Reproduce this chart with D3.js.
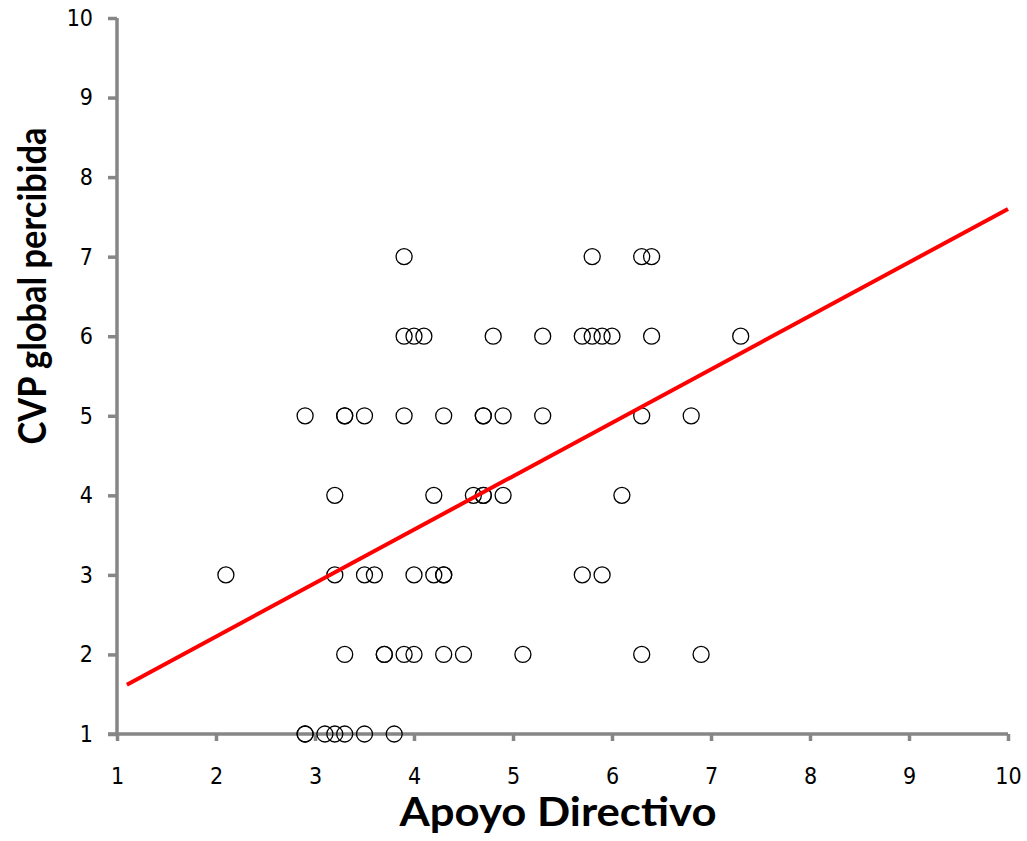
<!DOCTYPE html>
<html><head><meta charset="utf-8">
<script src="https://cdn.jsdelivr.net/npm/d3@7"></script>
<style>body{margin:0;background:#fff}svg{display:block}</style>
</head><body>
<script>
// Data
const apoyoDirectivo = [
  3.9, 5.8, 6.3, 6.4,
  3.9, 4.0, 4.1, 4.8, 5.3, 5.7, 5.8, 5.9, 6.0, 6.4, 7.3,
  2.9, 3.3, 3.3, 3.5, 3.9, 4.3, 4.7, 4.7, 4.9, 5.3, 6.3, 6.8,
  3.2, 4.2, 4.6, 4.7, 4.7, 4.9, 6.1,
  2.1, 3.2, 3.5, 3.6, 4.0, 4.2, 4.3, 4.3, 5.7, 5.9,
  3.3, 3.7, 3.7, 3.9, 4.0, 4.3, 4.5, 5.1, 6.3, 6.9,
  2.9, 2.9, 3.1, 3.2, 3.3, 3.5, 3.8
];
const cvpGlobal = [
  7, 7, 7, 7,
  6, 6, 6, 6, 6, 6, 6, 6, 6, 6, 6,
  5, 5, 5, 5, 5, 5, 5, 5, 5, 5, 5, 5,
  4, 4, 4, 4, 4, 4, 4,
  3, 3, 3, 3, 3, 3, 3, 3, 3, 3,
  2, 2, 2, 2, 2, 2, 2, 2, 2, 2,
  1, 1, 1, 1, 1, 1, 1
];
const fitX = [1.1, 10];
const fitY = [1.62, 7.6];
const xTicks = [1, 2, 3, 4, 5, 6, 7, 8, 9, 10];
const yTicks = [1, 2, 3, 4, 5, 6, 7, 8, 9, 10];
const xTitle = "Apoyo Directivo";
const yTitle = "CVP global percibida";

const W = 1027, H = 841;
const svg = d3.select("body").append("svg").attr("width", W).attr("height", H);
const x = d3.scaleLinear().domain([1, 10]).range([117, 1008]);
const y = d3.scaleLinear().domain([1, 10]).range([734, 18]);
const axisColor = "#868686";
const tickFont = "'Liberation Sans Narrow', 'DejaVu Sans Condensed', Lato, sans-serif";
const titleFont = "Lato, 'Open Sans', sans-serif";

// X axis
const gx = svg.append("g").attr("transform", `translate(0,${y(1)})`)
  .call(d3.axisBottom(x).tickValues(xTicks).tickSize(7).tickPadding(27).tickFormat(d3.format("d")));
gx.select(".domain").attr("stroke", axisColor).attr("stroke-width", 3.5).attr("d", `M${x(1)-9},0H${x(10)}`);
gx.selectAll(".tick line").attr("stroke", axisColor).attr("stroke-width", 3.5);
gx.selectAll(".tick text").attr("font-family", tickFont).attr("font-size", 23).attr("fill", "#000");

// Y axis
const gy = svg.append("g").attr("transform", `translate(${x(1)},0)`)
  .call(d3.axisLeft(y).tickValues(yTicks).tickSize(9).tickPadding(15).tickFormat(d3.format("d")));
gy.select(".domain").attr("stroke", axisColor).attr("stroke-width", 3.5).attr("d", `M0,${y(1)}V${y(10)}`);
gy.selectAll(".tick line").attr("stroke", axisColor).attr("stroke-width", 3.5);
gy.selectAll(".tick text").attr("font-family", tickFont).attr("font-size", 23).attr("fill", "#000");

// Points
const pts = apoyoDirectivo.map((v, i) => ({x: v, y: cvpGlobal[i]}));
svg.append("g").selectAll("circle").data(pts).join("circle")
  .attr("cx", d => x(d.x)).attr("cy", d => y(d.y)).attr("r", 8)
  .attr("fill", "none").attr("stroke", "#000").attr("stroke-width", 1.3);

// Fit line
const line = d3.line().x(d => x(d[0])).y(d => y(d[1]));
svg.append("path").datum(fitX.map((v, i) => [v, fitY[i]]))
  .attr("d", line).attr("stroke", "#ff0000").attr("stroke-width", 4).attr("fill", "none");

// Titles
svg.append("text").attr("x", 558).attr("y", 826).attr("text-anchor", "middle")
  .attr("font-family", titleFont).attr("font-weight", "bold")
  .attr("font-size", 40).attr("textLength", 317).attr("lengthAdjust", "spacingAndGlyphs")
  .attr("fill", "#000").text(xTitle);
svg.append("text").attr("transform", "translate(46,286) rotate(-90)").attr("text-anchor", "middle")
  .attr("font-family", titleFont).attr("font-weight", "bold")
  .attr("font-size", 39).attr("textLength", 317).attr("lengthAdjust", "spacingAndGlyphs")
  .attr("fill", "#000").text(yTitle);
</script>
</body></html>
